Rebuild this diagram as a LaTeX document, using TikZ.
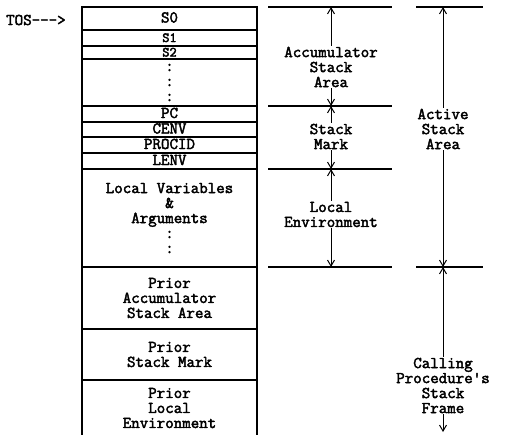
\documentclass[tikz,border=0pt]{standalone}
\usepackage{fontspec}
\newfontfamily\stackfont{Latin Modern Mono}[FakeBold=2.5]
\usetikzlibrary{arrows.meta}

\begin{document}
\begin{tikzpicture}[x=1pt, y=-1pt,
    slot/.style={draw, line width=1.2pt, minimum width=175pt, inner sep=0pt, outer sep=0pt, align=center},
    thin/.style={text height=8pt, text depth=0pt},
    tight/.style={thin, font=\stackfont\fontsize{14}{14}\selectfont},
    lbl/.style={align=center, inner sep=1pt},
    dim/.style={-{Straight Barb[length=6pt, width=7pt, line width=1pt]}, line width=0.8pt},
    rule/.style={line width=1.1pt},
    font=\stackfont\fontsize{16.5}{15}\selectfont
]
\useasboundingbox (0,0) rectangle (506,434);

% Top of stack pointer
\node[lbl, anchor=west] (tos) at (5, 20) {TOS--->};

% Current frame
\node[slot, thin, minimum height=23pt] (s0) at (169.5, 18.5) {S0};
\node[slot, tight, minimum height=16pt] (s1) at (169.5, 38) {S1};
\node[slot, tight, minimum height=13pt] (s2) at (169.5, 52.5) {S2};
\node[slot, minimum height=47pt] (sdots) at (169.5, 82.5) {:\\:\\:};
\node[slot, thin, minimum height=16pt] (pc) at (169.5, 114) {PC};
\node[slot, thin, minimum height=15pt] (cenv) at (169.5, 129.5) {CENV};
\node[slot, thin, minimum height=16pt] (procid) at (169.5, 145) {PROCID};
\node[slot, thin, minimum height=16pt] (lenv) at (169.5, 161) {LENV};
\node[slot, minimum height=98pt] (locals) at (169.5, 218) {Local Variables\\\&\\Arguments\\:\\:};

% Calling frame
\node[slot, minimum height=62pt] (pacc) at (169.5, 298) {Prior\\Accumulator\\Stack Area};
\node[slot, minimum height=51pt] (pmark) at (169.5, 354.5) {Prior\\Stack Mark};
\node[slot, draw=none, minimum height=56pt] (penv) at (169.5, 408) {Prior\\Local\\Environment};
\draw[line width=1.2pt] (penv.south west) -- (penv.north west) -- (penv.north east) -- (penv.south east);

% Extension lines and dimension points
\foreach \y/\n in {7/0, 106/1, 169/2, 267/3} {
    \draw[rule] (268,\y) -- (392,\y);
    \coordinate (a\n) at (331,\y);
}
\foreach \y/\n in {7/0, 267/1} {
    \draw[rule] (416,\y) -- (483,\y);
    \coordinate (b\n) at (443,\y);
}
\coordinate (bend) at (443,432);

% Region labels
\node[lbl] (acc) at (331, 67) {Accumulator\\Stack\\Area};
\node[lbl] (mark) at (331, 136.5) {Stack\\Mark};
\node[lbl] (lenvlbl) at (331, 214.5) {Local\\Environment};
\node[lbl] (active) at (443, 129) {Active\\Stack\\Area};
\node[lbl] (calling) at (443, 385.5) {Calling\\Procedure's\\Stack\\Frame};

% Arrows
\draw[dim] (acc) -- (a0);
\draw[dim] (acc) -- (a1);
\draw[dim] (mark) -- (a1);
\draw[dim] (mark) -- (a2);
\draw[dim] (lenvlbl) -- (a2);
\draw[dim] (lenvlbl) -- (a3);
\draw[dim] (active) -- (b0);
\draw[dim] (active) -- (b1);
\draw[dim] (calling) -- (b1);
\draw[dim] (calling) -- (bend);

\end{tikzpicture}
\end{document}
